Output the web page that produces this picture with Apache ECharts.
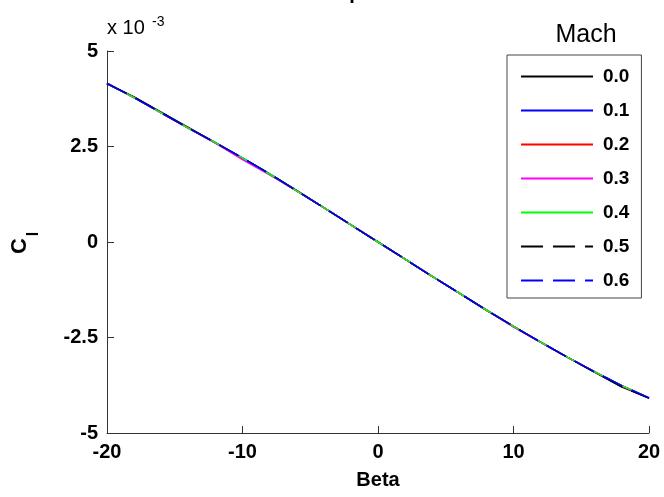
<!DOCTYPE html>
<html>
<head>
<meta charset="utf-8">
<script src="https://cdn.jsdelivr.net/npm/echarts@6/dist/echarts.min.js"></script>
<style>
  html, body { margin: 0; padding: 0; background: #fff; }
  #chart { width: 664px; height: 497px; }
</style>
</head>
<body>
<div id="chart"></div>
<script>
// Beta (deg) and rolling moment coefficient Cl (x 1e-3) for each Mach number
var beta = [-20, -18, -16, -14, -12, -10, -8, -6, -4, -2, 0, 2, 4, 6, 8, 10, 12, 14, 16, 18, 20];
var machNames = ["0.0", "0.1", "0.2", "0.3", "0.4", "0.5", "0.6"];
var cl00 = [4.15, 3.80, 3.40, 3.00, 2.60, 2.19, 1.78, 1.35, 0.90, 0.45, 0.00, -0.45, -0.90, -1.34, -1.79, -2.21, -2.62, -3.02, -3.41, -3.80, -4.08];
var cl01 = [4.15, 3.78, 3.38, 2.98, 2.60, 2.20, 1.78, 1.34, 0.90, 0.45, 0.00, -0.45, -0.90, -1.34, -1.78, -2.21, -2.62, -3.02, -3.40, -3.76, -4.08];
var cl02 = [4.15, 3.78, 3.38, 2.98, 2.59, 2.18, 1.77, 1.34, 0.90, 0.45, 0.00, -0.45, -0.90, -1.34, -1.78, -2.21, -2.62, -3.02, -3.40, -3.77, -4.08];
var cl03 = [4.15, 3.78, 3.38, 2.98, 2.59, 2.16, 1.76, 1.34, 0.90, 0.45, 0.00, -0.45, -0.90, -1.34, -1.78, -2.23, -2.63, -3.02, -3.40, -3.77, -4.08];
var cl04 = [4.15, 3.78, 3.38, 2.98, 2.60, 2.20, 1.78, 1.34, 0.90, 0.45, 0.00, -0.45, -0.90, -1.34, -1.78, -2.21, -2.62, -3.02, -3.40, -3.76, -4.08];
var cl05 = [4.15, 3.79, 3.39, 2.99, 2.60, 2.20, 1.79, 1.34, 0.90, 0.45, 0.00, -0.45, -0.90, -1.34, -1.78, -2.21, -2.62, -3.02, -3.41, -3.79, -4.09];
var cl06 = [4.15, 3.78, 3.38, 2.98, 2.60, 2.20, 1.78, 1.34, 0.90, 0.45, 0.00, -0.45, -0.90, -1.34, -1.78, -2.21, -2.62, -3.02, -3.40, -3.76, -4.08];
var yTicks = [-5, -2.5, 0, 2.5, 5];

var clData = [cl00, cl01, cl02, cl03, cl04, cl05, cl06];
var lineColors = ["#000000", "#0000ff", "#ff0000", "#ff00ff", "#00ff00", "#000000", "#0000ff"];
var lineTypes = ["solid", "solid", "solid", "solid", "solid", [22, 10], [22, 10]];

var font = "Liberation Sans, Arial, Helvetica, sans-serif";
var myChart = echarts.init(document.getElementById("chart"));

var series = clData.map(function (arr, i) {
  return {
    name: machNames[i],
    type: "line",
    data: arr.map(function (v, j) { return [beta[j], v]; }),
    symbol: "none",
    lineStyle: { color: lineColors[i], width: 1.5, type: lineTypes[i] },
    itemStyle: { color: lineColors[i] },
  };
});

var option = {
  animation: false,
  backgroundColor: "#fff",
  grid: { left: 107, right: 15, top: 51, bottom: 64, containLabel: false },
  xAxis: {
    type: "value",
    min: -20,
    max: 20,
    interval: 10,
    name: "Beta",
    nameLocation: "middle",
    nameGap: 37,
    nameTextStyle: { fontFamily: font, fontSize: 20, fontWeight: "bold", color: "#000" },
    axisLine: { onZero: false, lineStyle: { color: "#333", width: 1 } },
    axisTick: { inside: true, length: 7, lineStyle: { color: "#333" } },
    axisLabel: { margin: 9, fontFamily: font, fontSize: 20, fontWeight: "bold", color: "#000" },
    splitLine: { show: false },
  },
  yAxis: {
    type: "value",
    min: yTicks[0],
    max: yTicks[yTicks.length - 1],
    interval: 2.5,
    axisLine: { show: true, onZero: false, lineStyle: { color: "#333", width: 1 } },
    axisTick: { show: true, inside: true, length: 7, lineStyle: { color: "#333" } },
    axisLabel: { margin: 9, fontFamily: font, fontSize: 20, fontWeight: "bold", color: "#000" },
    splitLine: { show: false },
  },
  legend: {
    data: machNames,
    orient: "vertical",
    left: 507,
    top: 55,
    backgroundColor: "#fff",
    borderColor: "#444",
    borderWidth: 1,
    padding: [12, 12, 8, 13],
    itemWidth: 72,
    itemHeight: 14,
    itemGap: 15,
    selectedMode: false,
    itemStyle: { color: "transparent", borderWidth: 0, opacity: 0 },
    textStyle: { fontFamily: font, fontSize: 19, fontWeight: "bold", color: "#000", padding: [0, 0, 0, 5] },
  },
  graphic: {
    elements: [
      {
        type: "text", x: 357, y: 3,
        style: { text: "Alpha", fontFamily: font, fontSize: 20, fontWeight: "bold", fill: "#000", textAlign: "center", textVerticalAlign: "bottom" },
      },
      {
        type: "text", x: 107, y: 38,
        style: { text: "x 10", fontFamily: font, fontSize: 20, fill: "#000", textAlign: "left", textVerticalAlign: "bottom" },
      },
      {
        type: "text", x: 152, y: 29,
        style: { text: "-3", fontFamily: font, fontSize: 14, fill: "#000", textAlign: "left", textVerticalAlign: "bottom" },
      },
      {
        type: "text", x: 586, y: 35,
        style: { text: "Mach", fontFamily: font, fontSize: 25, fill: "#000", textAlign: "center", textVerticalAlign: "middle" },
      },
      {
        type: "text", x: 20, y: 246, rotation: Math.PI / 2,
        style: { text: "C", fontFamily: font, fontSize: 22, fontWeight: "bold", fill: "#000", textAlign: "center", textVerticalAlign: "middle" },
      },
      {
        type: "text", x: 34, y: 234, rotation: Math.PI / 2,
        style: { text: "l", fontFamily: font, fontSize: 16, fontWeight: "bold", fill: "#000", textAlign: "center", textVerticalAlign: "middle" },
      },
    ],
  },
  series: series,
};
myChart.setOption(option);
window.onresize = myChart.resize;
</script>
</body>
</html>
